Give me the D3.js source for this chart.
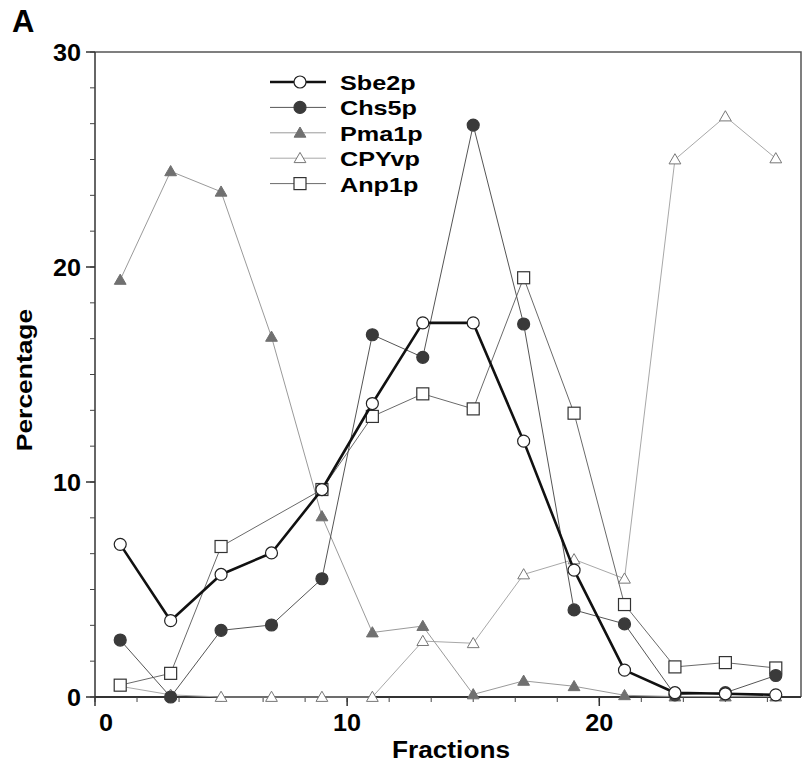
<!DOCTYPE html>
<html>
<head>
<meta charset="utf-8">
<script src="https://cdn.jsdelivr.net/npm/d3@7"></script>
<style>
  body { margin: 0; background: #fff; }
  svg { display: block; font-family: "Liberation Sans", Arial, sans-serif; }
</style>
</head>
<body>
<svg id="chart" width="806" height="766"></svg>
<script>
// fractions collected (odd numbered)
const fractions = [1, 3, 5, 7, 9, 11, 13, 15, 17, 19, 21, 23, 25, 27]

// percentage per fraction (null = no point)
const sbe2p = [7.1, 3.55, 5.7, 6.7, 9.65, 13.65, 17.4, 17.4, 11.9, 5.9, 1.25, 0.2, 0.15, 0.1]
const chs5p = [2.65, 0.0, 3.1, 3.35, 5.5, 16.85, 15.8, 26.6, 17.35, 4.05, 3.4, 0.1, 0.2, 1.0]
const pma1p = [19.4, 24.45, 23.5, 16.75, 8.4, 3.0, 3.3, 0.12, 0.75, 0.5, 0.08, 0.02, 0.02, 0.02]
const cpyvp = [0.5, 0.1, 0.0, 0.0, 0.0, 0.0, 2.6, 2.5, 5.7, 6.4, 5.5, 25.0, 27.0, 25.05]
const anp1p = [0.55, 1.1, 7.0, null, 9.65, 13.05, 14.1, 13.4, 19.5, 13.2, 4.3, 1.4, 1.6, 1.35]

const seriesNames = ['Sbe2p', 'Chs5p', 'Pma1p', 'CPYvp', 'Anp1p']
const yTicks = [0, 10, 20, 30]
const xTicks = [0, 10, 20]

const series = [
  { name: 'CPYvp', values: cpyvp, line: '#a8a8a8', width: 1, shape: 'triangle', fill: '#fff', stroke: '#777' },
  { name: 'Pma1p', values: pma1p, line: '#9a9a9a', width: 1, shape: 'triangle', fill: '#707070', stroke: '#707070' },
  { name: 'Anp1p', values: anp1p, line: '#6a6a6a', width: 1, shape: 'square', fill: '#fff', stroke: '#333' },
  { name: 'Chs5p', values: chs5p, line: '#555', width: 1, shape: 'circle', fill: '#3a3a3a', stroke: '#3a3a3a' },
  { name: 'Sbe2p', values: sbe2p, line: '#111', width: 2.6, shape: 'circle', fill: '#fff', stroke: '#222' }
]

const svg = d3.select('#chart')
const m = { left: 95, top: 52, right: 801, bottom: 697 }

const x = d3.scaleLinear().domain([0, 28]).range([m.left, m.right])
const y = d3.scaleLinear().domain([0, 30]).range([m.bottom, m.top])

// the original type is a bit wider than Liberation Sans, so stretch it
function widen (sel, k) {
  sel.each(function () {
    const w = this.getComputedTextLength()
    d3.select(this).attr('textLength', w * k).attr('lengthAdjust', 'spacingAndGlyphs')
  })
  return sel
}

// frame top / right
svg.append('path')
  .attr('d', `M${m.left},${m.top}H${m.right}V${m.bottom}`)
  .attr('fill', 'none').attr('stroke', '#555').attr('stroke-width', 1.5)

// minor ticks every 10/6
const minor = d3.range(0, 31, 10 / 6).filter(v => v <= 30.01)
const minorX = d3.range(0, 28, 10 / 6)

const yAxis = svg.append('g').attr('transform', `translate(${m.left},0)`)
yAxis.append('line').attr('y1', m.top).attr('y2', m.bottom).attr('stroke', '#333').attr('stroke-width', 1.5)
yAxis.selectAll('.mn').data(minor).join('line')
  .attr('x1', -5).attr('x2', 0).attr('y1', d => y(d)).attr('y2', d => y(d))
  .attr('stroke', '#444')
yAxis.selectAll('.mj').data(yTicks).join('line')
  .attr('x1', -9).attr('x2', 0).attr('y1', d => y(d)).attr('y2', d => y(d))
  .attr('stroke', '#333').attr('stroke-width', 1.5)
widen(yAxis.selectAll('text').data(yTicks).join('text')
  .attr('x', -14).attr('y', d => y(d) + 9)
  .attr('text-anchor', 'end')
  .attr('font-size', 24).attr('font-weight', 'bold')
  .text(d => d), 1.05)

const xAxis = svg.append('g').attr('transform', `translate(0,${m.bottom})`)
xAxis.append('line').attr('x1', m.left).attr('x2', m.right).attr('stroke', '#333').attr('stroke-width', 2)
xAxis.selectAll('.mn').data(minorX).join('line')
  .attr('x1', d => x(d)).attr('x2', d => x(d)).attr('y1', 0).attr('y2', 5)
  .attr('stroke', '#444')
xAxis.selectAll('.mj').data(xTicks).join('line')
  .attr('x1', d => x(d)).attr('x2', d => x(d)).attr('y1', 0).attr('y2', 9)
  .attr('stroke', '#333').attr('stroke-width', 1.5)
widen(xAxis.selectAll('text').data(xTicks).join('text')
  .attr('x', d => x(d) + (d === 0 ? 11 : 0)).attr('y', 34)
  .attr('text-anchor', 'middle')
  .attr('font-size', 24).attr('font-weight', 'bold')
  .text(d => d), 1.05)

widen(svg.append('text').attr('x', 451).attr('y', 758)
  .attr('text-anchor', 'middle').attr('font-size', 23).attr('font-weight', 'bold')
  .text('Fractions'), 1.14)
widen(svg.append('text').attr('transform', 'translate(32,380) rotate(-90)')
  .attr('text-anchor', 'middle').attr('font-size', 22).attr('font-weight', 'bold')
  .text('Percentage'), 1.2)
svg.append('text').attr('x', 12).attr('y', 32)
  .attr('font-size', 31).attr('font-weight', 'bold')
  .text('A')

const line = d3.line()
  .x(d => x(d.f))
  .y(d => y(d.v))

function marker (g, s, cx, cy) {
  if (s.shape === 'circle') {
    g.append('circle').attr('cx', cx).attr('cy', cy).attr('r', 6)
      .attr('fill', s.fill).attr('stroke', s.stroke).attr('stroke-width', 1.2)
  } else if (s.shape === 'square') {
    g.append('rect').attr('x', cx - 6).attr('y', cy - 6).attr('width', 12).attr('height', 12)
      .attr('fill', s.fill).attr('stroke', s.stroke).attr('stroke-width', 1.2)
  } else {
    g.append('path')
      .attr('d', d3.symbol(d3.symbolTriangle, 60)())
      .attr('transform', `translate(${cx},${cy + 1})`)
      .attr('fill', s.fill).attr('stroke', s.stroke).attr('stroke-width', 1)
  }
}

series.forEach(s => {
  const pts = fractions.map((f, i) => ({ f, v: s.values[i] })).filter(d => d.v !== null)
  const g = svg.append('g')
  g.append('path').attr('d', line(pts))
    .attr('fill', 'none').attr('stroke', s.line).attr('stroke-width', s.width)
    .attr('stroke-linejoin', 'round')
  pts.forEach(d => marker(g, s, x(d.f), y(d.v)))
})

// legend
const legend = svg.append('g')
seriesNames.forEach((name, i) => {
  const s = series.find(d => d.name === name)
  const ly = 82 + i * 25.4
  legend.append('line').attr('x1', 270).attr('x2', 326).attr('y1', ly).attr('y2', ly)
    .attr('stroke', s.line).attr('stroke-width', s.width)
  marker(legend, s, 300, ly)
  widen(legend.append('text').attr('x', 340).attr('y', ly + 8)
    .attr('font-size', 21).attr('font-weight', 'bold')
    .text(name), 1.2)
})
</script>
</body>
</html>
